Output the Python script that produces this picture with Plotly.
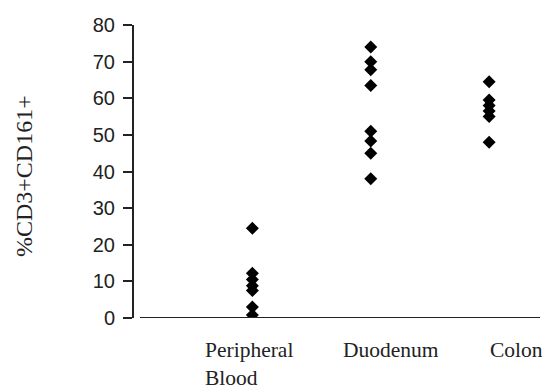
import plotly.graph_objects as go

# Percentage of CD3+CD161+ cells per tissue site
categories = ["Peripheral Blood", "Duodenum", "Colon"]
peripheral_blood = [24.5, 12.2, 10.5, 8.8, 7.5, 3.0, 0.8]
duodenum = [74.0, 70.0, 67.8, 63.5, 51.0, 48.3, 45.0, 38.0]
colon = [64.5, 59.5, 58.0, 56.5, 55.0, 48.0]
y_ticks = [0, 10, 20, 30, 40, 50, 60, 70, 80]

series = [peripheral_blood, duodenum, colon]

W, H = 559, 392
L, R, T, B = 134, 19, 25, 74
plot_w = W - L - R
plot_h = H - T - B


def px_x(px):
    return (px - L) / plot_w


def px_y(py):
    return (H - B - py) / plot_h


fig = go.Figure()
for pos, vals in enumerate(series, start=1):
    fig.add_trace(go.Scatter(
        x=[pos] * len(vals),
        y=vals,
        mode="markers",
        marker=dict(symbol="diamond", size=10, color="black"),
        showlegend=False,
        hoverinfo="y",
    ))

serif = "Liberation Serif, Times New Roman, serif"
label_color = "#222222"

# Category captions under the axis, left aligned, wrapped onto two lines
caption_text = ["Peripheral<br>Blood", "Duodenum", "Colon"]
caption_left = [204, 342, 489]
annotations = [
    dict(text=t, x=px_x(x), y=px_y(354), xref="paper", yref="paper",
         xanchor="left", yanchor="top", align="left", valign="top",
         showarrow=False, borderpad=0, yshift=17,
         font=dict(family=serif, size=21.5, color=label_color))
    for t, x in zip(caption_text, caption_left)
]
annotations.append(dict(
    text="%CD3+CD161+", x=px_x(24), y=px_y(176), xref="paper", yref="paper",
    xanchor="center", yanchor="middle", textangle=-90, showarrow=False,
    font=dict(family=serif, size=24, color=label_color)))

fig.update_layout(
    width=W, height=H,
    margin=dict(l=L, r=R, t=T, b=B, pad=0),
    paper_bgcolor="white", plot_bgcolor="white",
    xaxis=dict(range=[0, 3.43], showline=False, showgrid=False, zeroline=False,
               showticklabels=False, ticks=""),
    yaxis=dict(range=[0, 80], tickvals=y_ticks, showgrid=False, zeroline=False,
               showline=True, linecolor="#222222", linewidth=2,
               ticks="outside", ticklen=9, tickwidth=2, tickcolor="#222222",
               ticklabelstandoff=4,
               tickfont=dict(family="Liberation Sans, Arial, sans-serif",
                             size=20, color=label_color)),
    annotations=annotations,
    shapes=[dict(type="line", xref="paper", yref="y", x0=px_x(140), x1=1,
                 y0=0, y1=0, line=dict(color="#222222", width=2))],
)

fig.write_html("out.html")
